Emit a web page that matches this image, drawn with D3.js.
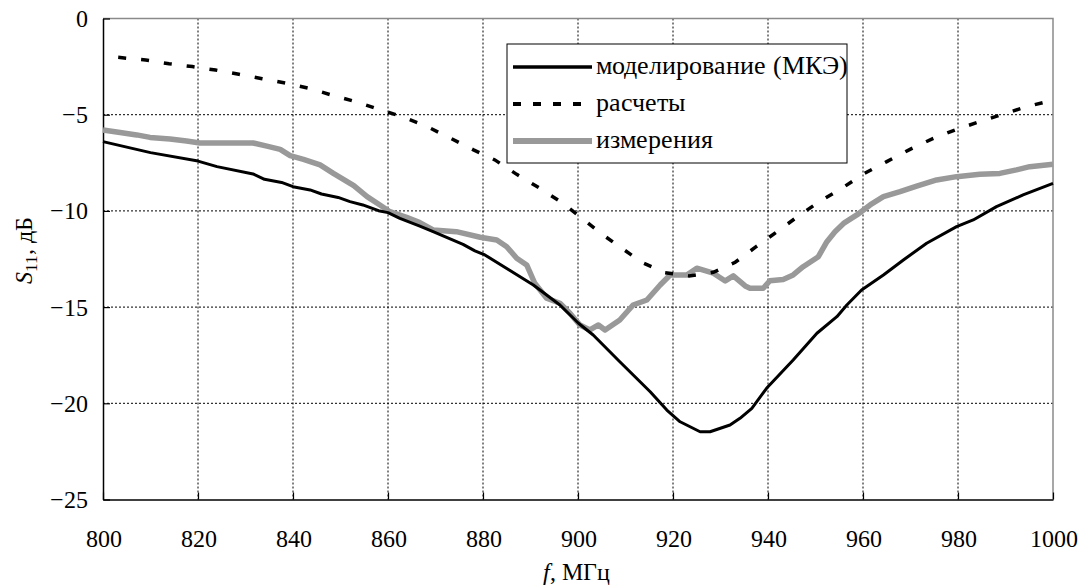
<!DOCTYPE html>
<html>
<head>
<meta charset="utf-8">
<script src="https://cdn.jsdelivr.net/npm/d3@7"></script>
<style>
  @font-face { font-family: "ChartSerif"; src: local("Liberation Serif"), local("LiberationSerif"), local("Liberation Serif Regular"), local("LiberationSerif-Regular"); font-style: normal; }
  @font-face { font-family: "ChartSerif"; src: local("Liberation Serif Italic"), local("LiberationSerif-Italic"); font-style: italic; }
</style>
</head>
<body style="margin:0">
<svg id="chart" width="1079" height="586"></svg>
<script>
// Axis ticks
const xTicks = [800, 820, 840, 860, 880, 900, 920, 940, 960, 980, 1000];
const yTicks = [0, -5, -10, -15, -20, -25];

// Series labels
const seriesNames = ["моделирование (МКЭ)", "расчеты", "измерения"];

// FEM simulation: frequency (MHz) and S11 (dB)
const simFreq = [800, 810, 820, 824, 831.6, 834, 837.6, 840, 843.6, 846, 849.5, 852, 854.7, 858, 860, 862.5,
  866.7, 869.5, 875.8, 878.3, 880.4, 890.6, 896.2, 900.1, 903.2, 908.8, 915.2, 918.7, 921.5, 925.7, 927.8,
  932, 934.1, 936.6, 939.7, 945.3, 950.3, 954.5, 956.6, 959.7, 964.3, 968.5, 973.4, 979.7, 983.2, 988.1, 993.7, 1000];
const simS11 = [-6.40, -6.97, -7.41, -7.70, -8.08, -8.36, -8.52, -8.74, -8.91, -9.12, -9.30, -9.52, -9.69, -9.99, -10.09, -10.39,
  -10.79, -11.08, -11.74, -12.08, -12.29, -13.85, -14.89, -15.84, -16.45, -17.84, -19.40, -20.35, -20.96, -21.48, -21.48,
  -21.13, -20.78, -20.26, -19.22, -17.75, -16.36, -15.50, -14.89, -14.11, -13.33, -12.55, -11.68, -10.82, -10.47, -9.78, -9.17, -8.57];

// Analytical calculation
const calcFreq = [803.2, 809, 813.9, 818.8, 823.7, 828.6, 833.5, 838.7, 843.4, 848.3, 853.2, 858.1, 862.9, 868, 873,
  878, 882.5, 887.1, 892, 896.6, 900.4, 904.6, 909.2, 913.8, 918.3, 923.4, 928.5, 933.1, 937.5, 941.9, 946,
  950.6, 955.5, 960.1, 965, 969.9, 974.8, 979.7, 984.6, 990, 994.5, 1000];
const calcS11 = [-2.02, -2.16, -2.35, -2.50, -2.68, -2.90, -3.13, -3.37, -3.63, -3.99, -4.32, -4.72, -5.10, -5.59, -6.20,
  -6.83, -7.35, -8.10, -8.83, -9.57, -10.30, -11.13, -11.94, -12.72, -13.21, -13.38, -13.19, -12.67, -11.86, -11.08, -10.34,
  -9.55, -8.83, -8.08, -7.44, -6.80, -6.23, -5.76, -5.36, -4.93, -4.58, -4.24];

// Measurement
const measFreq = [800, 803.6, 807.1, 809.9, 814.1, 817.6, 820.4, 831.6, 834.5, 837.3, 839.4, 842.2, 845.7, 848.5, 852.8,
  855.6, 858.3, 860.4, 863.9, 866.7, 869.5, 874.4, 879.4, 882.9, 885, 887.1, 889.2, 890.9, 893.4, 896.2, 898.3,
  900.4, 902.5, 904.3, 905.7, 908.8, 911.6, 914.5, 917.3, 919.4, 922.9, 925, 928.5, 931, 932.7, 935.2, 936.2,
  939, 940.4, 943.2, 945.3, 947.4, 950.6, 952.4, 954.1, 955.9, 958.7, 961.5, 964.3, 967.8, 971.3, 975.5, 979.7,
  984.6, 988.8, 992.3, 995.1, 1000];
const measS11 = [-5.80, -5.93, -6.05, -6.18, -6.26, -6.37, -6.47, -6.47, -6.63, -6.80, -7.13, -7.32, -7.61, -8.05, -8.69,
  -9.26, -9.69, -10.04, -10.33, -10.61, -10.99, -11.08, -11.37, -11.51, -11.86, -12.46, -12.81, -13.76, -14.54, -14.80, -15.32,
  -15.93, -16.19, -15.93, -16.19, -15.67, -14.89, -14.63, -13.85, -13.33, -13.33, -12.98, -13.24, -13.64, -13.38, -13.90, -14.02,
  -14.02, -13.63, -13.56, -13.33, -12.90, -12.38, -11.60, -11.08, -10.65, -10.21, -9.69, -9.26, -9.00, -8.71, -8.39, -8.22,
  -8.10, -8.05, -7.87, -7.70, -7.58];

const svg = d3.select("#chart");
const plotL = 103, plotR = 1053, plotT = 18.5, plotB = 499.5;

const x = d3.scaleLinear().domain([800, 1000]).range([plotL, plotR]);
const y = d3.scaleLinear().domain([0, -25]).range([plotT, plotB]);

// Serif label styling shared by all texts
const FAMILY = '"ChartSerif", "Liberation Serif", "Times New Roman", serif';
const serifText = (sel, size) => sel
  .style("font-family", FAMILY, "important")
  .style("font-size", size + "px", "important")
  .attr("fill", "#000");

// Dotted grid
const grid = svg.append("g").attr("stroke", "#000").attr("stroke-width", 1).attr("stroke-dasharray", "2,2");
grid.selectAll("line.v").data(xTicks.slice(1, -1)).join("line")
  .attr("x1", d => x(d)).attr("x2", d => x(d)).attr("y1", plotT).attr("y2", plotB);
grid.selectAll("line.h").data(yTicks.slice(1, -1)).join("line")
  .attr("x1", plotL).attr("x2", plotR).attr("y1", d => y(d)).attr("y2", d => y(d));

// Top and right frame in gray
svg.append("path")
  .attr("d", `M${plotL},${plotT}H${plotR}V${plotB}`)
  .attr("fill", "none").attr("stroke", "#8a8a8a").attr("stroke-width", 1.5);

// Axes with inward ticks
const fmt = d3.format("d");
const xAxis = svg.append("g").attr("transform", `translate(0,${plotB})`)
  .call(d3.axisBottom(x).tickValues(xTicks).tickFormat(fmt).tickSize(-7).tickSizeOuter(0));
const yAxis = svg.append("g").attr("transform", `translate(${plotL},0)`)
  .call(d3.axisLeft(y).tickValues(yTicks).tickFormat(fmt).tickSize(-7).tickSizeOuter(0));

[xAxis, yAxis].forEach(g => {
  g.attr("font-family", null).attr("font-size", null);
  g.select(".domain").attr("stroke", "#000").attr("stroke-width", 1.5);
  g.selectAll(".tick line").attr("stroke", "#000").attr("stroke-width", 1.2);
});
serifText(xAxis.selectAll(".tick text"), 24).attr("y", 47).attr("dy", null);
serifText(yAxis.selectAll(".tick text"), 24).attr("x", -15).attr("y", 8).attr("dy", null);

// Curves
const line = d3.line().x(d => x(d[0])).y(d => y(d[1]));
const zip = (a, b) => a.map((v, i) => [v, b[i]]);

svg.append("path").datum(zip(measFreq, measS11)).attr("d", line)
  .attr("fill", "none").attr("stroke", "#999").attr("stroke-width", 5.5).attr("stroke-linejoin", "round");
svg.append("path").datum(zip(calcFreq, calcS11)).attr("d", line)
  .attr("fill", "none").attr("stroke", "#000").attr("stroke-width", 3.5).attr("stroke-dasharray", "8,15");
svg.append("path").datum(zip(simFreq, simS11)).attr("d", line)
  .attr("fill", "none").attr("stroke", "#000").attr("stroke-width", 3).attr("stroke-linejoin", "round");

// Legend
const lg = svg.append("g");
lg.append("rect").attr("x", 507).attr("y", 44).attr("width", 340).attr("height", 119)
  .attr("fill", "#fff").attr("stroke", "#000").attr("stroke-width", 1);
const legendStyles = [
  { stroke: "#000", width: 3.5, dash: null },
  { stroke: "#000", width: 4, dash: "8,12" },
  { stroke: "#999", width: 6, dash: null }
];
const rowY = d3.scalePoint().domain(seriesNames).range([67, 141]);
seriesNames.forEach((name, i) => {
  const s = legendStyles[i];
  lg.append("line").attr("x1", 513).attr("x2", 592).attr("y1", rowY(name)).attr("y2", rowY(name))
    .attr("stroke", s.stroke).attr("stroke-width", s.width).attr("stroke-dasharray", s.dash);
  serifText(lg.append("text"), 26).attr("x", 596).attr("y", rowY(name) + 7).text(name);
});

// Axis titles
const xt = serifText(svg.append("text").attr("text-anchor", "middle"), 24).attr("x", 576).attr("y", 580);
xt.append("tspan").style("font-style", "italic").text("f");
xt.append("tspan").text(", МГц");

const yt = serifText(svg.append("text").attr("text-anchor", "middle"), 24)
  .attr("transform", "translate(32,250) rotate(-90)");
yt.append("tspan").style("font-style", "italic").text("S");
yt.append("tspan").style("font-size", "17px").attr("dy", 5).text("11");
yt.append("tspan").attr("dy", -5).text(", дБ");
</script>
</body>
</html>
